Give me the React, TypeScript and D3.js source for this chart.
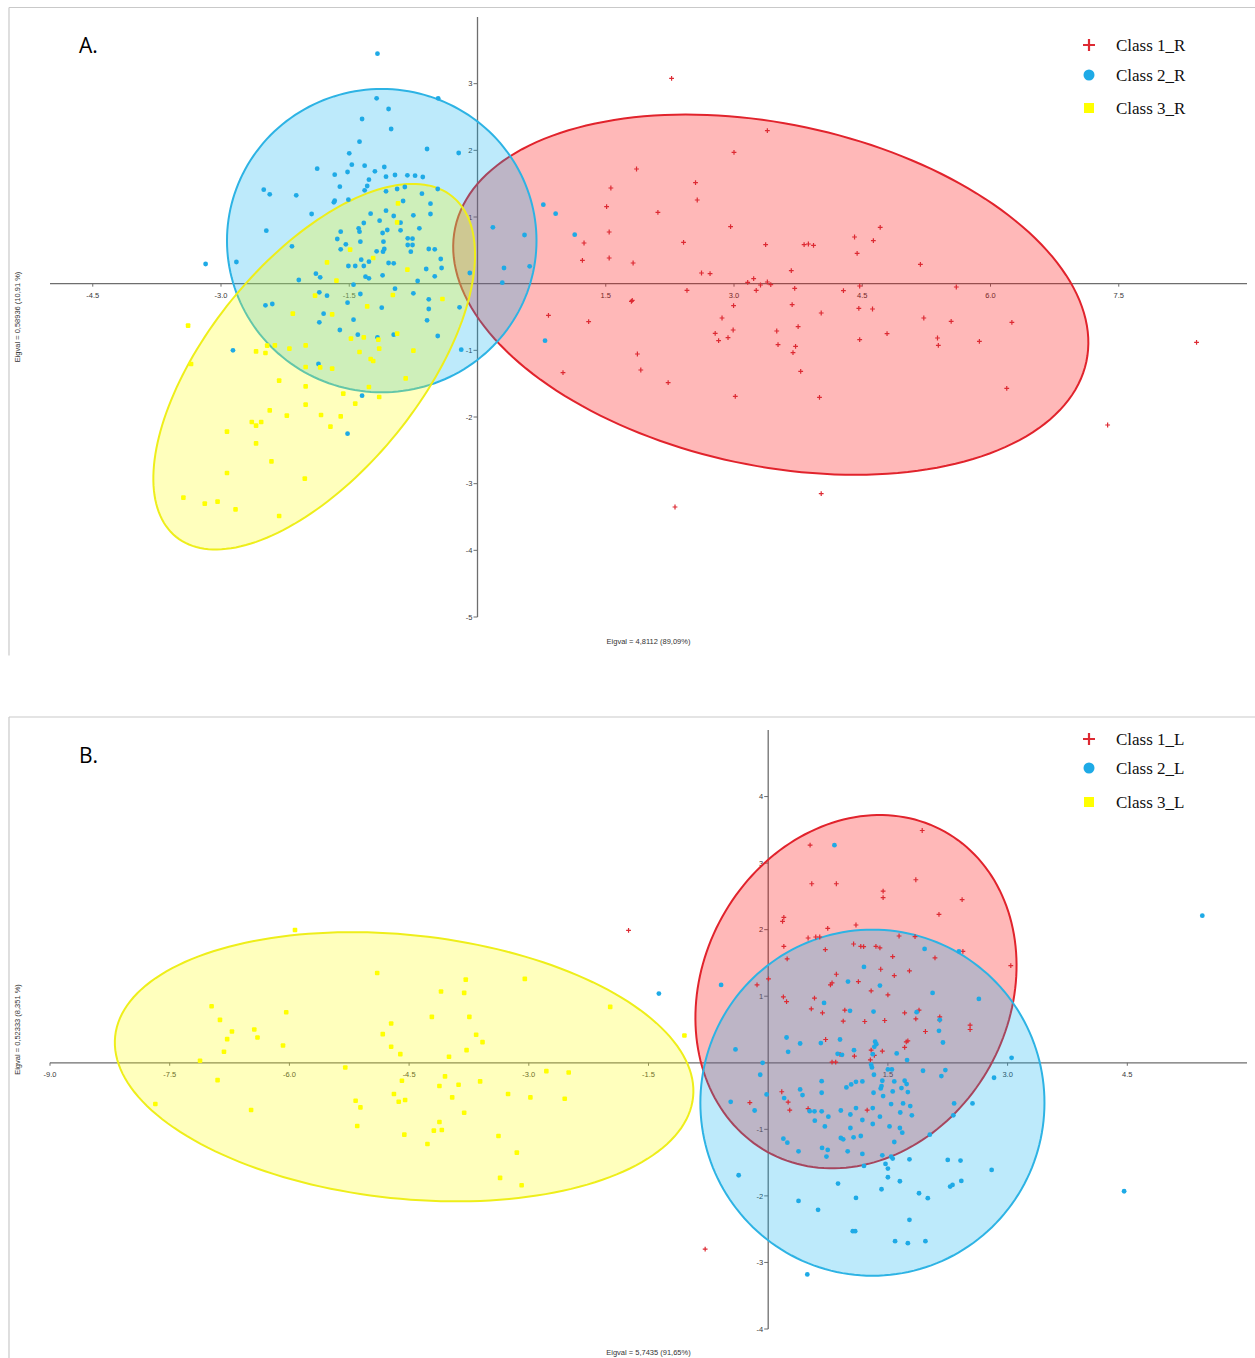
import React from "react";
import * as d3 from "d3";

type Pt = [number, number];

// ---- panel A (right side, "_R") ----
const redA: Pt[] = [
  [2.27, 3.08], [3.39, 2.295], [3.0, 1.97], [1.86, 1.72], [1.56, 1.435], [2.55, 1.515], [1.51, 1.155],
  [2.57, 1.255], [2.11, 1.07], [2.96, 0.855], [1.54, 0.775], [1.246, 0.61], [2.41, 0.62], [3.37, 0.585],
  [3.82, 0.585], [3.87, 0.595], [3.93, 0.575], [4.41, 0.7], [4.71, 0.845], [4.63, 0.645], [4.44, 0.455],
  [1.227, 0.35], [1.54, 0.385], [1.82, 0.31], [2.62, 0.16], [2.72, 0.15], [3.67, 0.195], [5.18, 0.29],
  [3.16, 0.02], [3.23, 0.075], [3.31, -0.02], [3.39, 0.025], [3.43, -0.015], [3.26, -0.1], [2.45, -0.1],
  [3.71, -0.07], [4.28, -0.105], [4.47, -0.035], [1.8, -0.265], [1.81, -0.25], [2.995, -0.33], [3.68, -0.315],
  [4.46, -0.37], [4.62, -0.38], [0.83, -0.475], [1.3, -0.57], [2.86, -0.515], [4.02, -0.44], [5.22, -0.515],
  [2.99, -0.695], [2.78, -0.745], [2.93, -0.81], [2.82, -0.855], [3.5, -0.71], [3.75, -0.645], [4.79, -0.75],
  [4.47, -0.84], [3.515, -0.915], [3.72, -0.94], [3.69, -1.035], [1.87, -1.055], [5.38, -0.815], [5.39, -0.925],
  [1.0, -1.335], [1.91, -1.295], [2.23, -1.485], [3.78, -1.315], [3.015, -1.69], [4.0, -1.705], [5.6, -0.05],
  [5.54, -0.565], [6.25, -0.58], [5.87, -0.865], [6.19, -1.57], [8.41, -0.88], [7.37, -2.12], [4.02, -3.15],
  [2.31, -3.35],
];

const blueA: Pt[] = [
  [-1.17, 3.45], [-1.18, 2.78], [-0.46, 2.78], [-1.04, 2.62], [-1.35, 2.47], [-1.01, 2.32], [-1.38, 2.13],
  [-0.59, 2.02], [-0.22, 1.96], [-1.5, 1.955], [-1.875, 1.725], [-1.47, 1.785], [-1.32, 1.77], [-1.09, 1.75],
  [-1.2, 1.685], [-1.67, 1.635], [-1.52, 1.675], [-1.07, 1.605], [-0.965, 1.63], [-0.82, 1.625], [-0.73, 1.62],
  [-0.64, 1.6], [-1.27, 1.56], [-1.61, 1.455], [-1.29, 1.465], [-2.5, 1.41], [-2.43, 1.34], [-2.12, 1.325],
  [-1.32, 1.4], [-1.07, 1.385], [-0.94, 1.42], [-0.85, 1.45], [-0.465, 1.42], [-0.65, 1.35], [-1.67, 1.245],
  [-1.68, 1.22], [-1.51, 1.26], [-0.87, 1.24], [-0.55, 1.2], [-1.94, 1.045], [-1.25, 1.05], [-1.07, 1.095],
  [-0.98, 1.015], [-0.75, 1.025], [-0.55, 1.045], [-1.33, 0.91], [-1.145, 0.945], [-0.9, 0.915], [-2.47, 0.795],
  [-1.6, 0.78], [-1.38, 0.78], [-1.39, 0.83], [-1.055, 0.805], [-0.9, 0.8], [-0.68, 0.83], [-1.11, 0.76],
  [-1.64, 0.67], [-1.54, 0.59], [-1.37, 0.63], [-2.17, 0.56], [-1.1, 0.63], [-0.816, 0.68], [-0.76, 0.675],
  [-0.816, 0.58], [-0.76, 0.58], [-1.6, 0.515], [-1.18, 0.485], [-1.105, 0.48], [-1.09, 0.52], [-0.78, 0.48],
  [-0.57, 0.52], [-0.5, 0.515], [-2.82, 0.325], [-1.36, 0.36], [-1.27, 0.33], [-0.43, 0.37], [-1.51, 0.265],
  [-1.43, 0.265], [-1.33, 0.265], [-1.04, 0.31], [-0.98, 0.305], [-0.6, 0.22], [-0.42, 0.235], [-1.89, 0.15],
  [-1.84, 0.095], [-2.09, 0.055], [-1.31, 0.105], [-1.27, 0.08], [-1.11, 0.125], [-0.7, 0.04], [-0.5, 0.11],
  [-0.09, 0.16], [-1.45, -0.015], [-1.85, -0.13], [-1.76, -0.18], [-1.37, -0.155], [-0.965, -0.075],
  [-0.75, -0.145], [-0.57, -0.235], [-1.52, -0.285], [-2.48, -0.325], [-2.4, -0.305], [-1.12, -0.36],
  [-0.57, -0.38], [-0.21, -0.355], [-1.8, -0.45], [-1.85, -0.58], [-1.45, -0.54], [-0.59, -0.55], [-1.61, -0.695],
  [-1.4, -0.765], [-1.17, -0.805], [-0.98, -0.765], [-0.465, -0.785], [-2.86, -1.0], [-0.19, -0.99],
  [-1.86, -1.205], [-1.35, -1.68], [-1.52, -2.25], [-3.18, 0.295], [0.18, 0.845], [0.55, 0.73], [0.31, 0.235],
  [0.61, 0.26], [0.29, 0.015], [0.77, 1.185], [0.914, 1.05], [1.137, 0.735], [0.79, -0.855],
];

const yellowA: Pt[] = [
  [-0.93, 1.205], [-0.94, 0.92], [-1.49, 0.51], [-1.22, 0.385], [-1.76, 0.32], [-0.82, 0.21], [-1.65, 0.045],
  [-1.9, -0.18], [-0.99, -0.17], [-0.41, -0.23], [-1.29, -0.34], [-2.16, -0.45], [-1.7, -0.46], [-1.48, -0.825],
  [-1.33, -0.805], [-1.16, -0.84], [-0.94, -0.75], [-2.46, -0.93], [-2.37, -0.925], [-2.59, -1.015],
  [-2.48, -1.04], [-2.2, -0.975], [-2.01, -0.925], [-1.38, -1.025], [-1.15, -0.975], [-0.75, -1.005],
  [-1.25, -1.13], [-1.22, -1.16], [-2.32, -1.455], [-2.01, -1.25], [-1.84, -1.255], [-1.7, -1.275],
  [-0.84, -1.42], [-2.01, -1.54], [-1.57, -1.65], [-1.27, -1.55], [-1.15, -1.7], [-1.43, -1.8], [-2.43, -1.9],
  [-2.01, -1.815], [-2.23, -1.98], [-1.6, -1.99], [-1.83, -1.97], [-3.385, -0.63], [-3.35, -1.205],
  [-1.72, -2.145], [-2.64, -2.075], [-2.59, -2.13], [-2.53, -2.075], [-2.93, -2.22], [-2.59, -2.395],
  [-2.41, -2.665], [-2.93, -2.84], [-2.02, -2.925], [-3.44, -3.21], [-3.19, -3.3], [-3.04, -3.27],
  [-2.83, -3.385], [-2.32, -3.485],
];

// ---- panel B (left side, "_L") ----
const redB: Pt[] = [
  [1.93, 3.49], [0.525, 3.27], [0.546, 2.69], [0.854, 2.69], [1.85, 2.75], [1.44, 2.58], [1.44, 2.48],
  [2.43, 2.45], [2.14, 2.23], [0.18, 2.125], [0.196, 2.185], [0.746, 2.02], [1.1, 2.07], [0.5, 1.875],
  [0.596, 1.89], [0.646, 1.89], [1.64, 1.905], [1.84, 1.895], [1.07, 1.785], [1.16, 1.75], [1.196, 1.745],
  [1.35, 1.75], [1.4, 1.725], [0.196, 1.75], [0.716, 1.7], [2.44, 1.675], [1.56, 1.595], [2.09, 1.575],
  [0.2375, 1.56], [3.04, 1.46], [1.41, 1.405], [1.77, 1.38], [0.854, 1.33], [1.58, 1.31], [0.004, 1.26],
  [-0.14, 1.17], [0.78, 1.17], [0.8, 1.2], [1.13, 1.22], [1.29, 1.08], [1.5, 1.02], [0.19, 0.99], [0.23, 0.92],
  [0.58, 0.97], [0.54, 0.81], [0.68, 0.75], [0.96, 0.79], [1.71, 0.75], [1.89, 0.79], [0.94, 0.625],
  [1.21, 0.62], [1.46, 0.635], [1.85, 0.66], [2.15, 0.69], [2.15, 0.64], [1.97, 0.47], [2.53, 0.565],
  [2.53, 0.5], [0.72, 0.35], [1.73, 0.315], [1.75, 0.33], [1.71, 0.23], [1.29, 0.19], [1.43, 0.175],
  [0.9, 0.125], [1.08, 0.1], [1.28, 0.045], [0.8, 0.01], [0.846, 0.01], [1.33, 0.11], [0.17, -0.435],
  [0.25, -0.59], [0.27, -0.71], [-0.23, -0.6], [0.5, -0.69], [1.24, -0.71], [-0.79, -2.8], [-1.75, 1.99],
];

const blueB: Pt[] = [
  [0.83, 3.27], [-0.59, 1.17], [1.96, 1.71], [2.39, 1.675], [1.2, 1.44], [1.0, 1.22], [1.4, 1.16], [2.06, 1.05],
  [2.64, 0.96], [0.7, 0.9], [1.025, 0.78], [1.32, 0.77], [1.86, 0.76], [2.15, 0.645], [2.14, 0.48], [2.19, 0.305],
  [-0.41, 0.2], [0.23, 0.38], [0.25, 0.165], [0.4, 0.29], [0.66, 0.296], [0.9, 0.35], [0.87, 0.135],
  [0.925, 0.12], [1.075, 0.19], [1.34, 0.316], [1.355, 0.28], [1.33, 0.24], [1.31, 0.13], [1.61, 0.14],
  [1.74, 0.04], [1.29, -0.03], [1.3, -0.07], [-0.07, 0.0], [-0.1, -0.18], [-0.02, -0.476], [-0.47, -0.586],
  [-0.17, -0.717], [1.325, -0.18], [1.5, -0.1], [1.55, -0.1], [1.94, -0.12], [2.22, -0.11], [2.17, -0.2],
  [3.05, 0.075], [2.83, -0.225], [0.67, -0.276], [0.98, -0.37], [1.04, -0.326], [1.1, -0.286], [1.18, -0.28],
  [1.43, -0.27], [1.42, -0.35], [1.41, -0.386], [1.58, -0.28], [1.71, -0.27], [1.735, -0.32], [1.67, -0.38],
  [1.56, -0.43], [1.44, -0.5], [1.75, -0.44], [1.32, -0.45], [0.4, -0.4], [0.43, -0.486], [0.67, -0.45],
  [0.2, -0.53], [0.52, -0.727], [0.58, -0.73], [0.67, -0.73], [0.754, -0.81], [0.584, -0.87], [0.71, -0.957],
  [0.91, -0.717], [1.03, -0.777], [1.1, -0.68], [1.18, -0.86], [1.31, -0.68], [1.31, -0.92], [1.4, -0.81],
  [1.54, -0.62], [1.655, -0.747], [1.69, -0.61], [1.78, -0.65], [1.8, -0.79], [1.52, -0.957], [1.65, -0.98],
  [1.68, -1.05], [1.03, -0.98], [0.91, -1.13], [0.94, -1.15], [1.07, -1.12], [1.16, -1.1], [0.996, -1.33],
  [1.18, -1.37], [0.675, -1.28], [0.746, -1.31], [0.73, -1.41], [0.38, -1.33], [0.19, -1.14], [0.24, -1.2],
  [1.58, -1.19], [2.025, -1.08], [1.43, -1.39], [1.54, -1.41], [1.56, -1.44], [1.2, -1.55], [1.47, -1.52],
  [1.5, -1.59], [1.77, -1.45], [1.5, -1.72], [1.65, -1.78], [1.42, -1.9], [0.875, -1.815], [1.1, -2.03],
  [0.38, -2.075], [0.625, -2.21], [-0.37, -1.69], [1.89, -1.96], [2.0, -2.035], [1.77, -2.36], [1.06, -2.53],
  [1.09, -2.53], [1.59, -2.68], [1.75, -2.71], [1.97, -2.68], [0.49, -3.18], [2.25, -1.46], [2.41, -1.47],
  [2.8, -1.61], [2.28, -1.86], [2.31, -1.835], [2.42, -1.775], [2.33, -0.61], [2.56, -0.61], [2.32, -0.79],
  [5.44, 2.21], [4.46, -1.93], [-1.37, 1.04],
];

const yellowB: Pt[] = [
  [-5.93, 1.995], [-4.9, 1.35], [-3.79, 1.25], [-3.05, 1.26], [-1.98, 0.84], [-4.1, 1.07], [-3.81, 1.05],
  [-6.975, 0.85], [-6.04, 0.76], [-6.87, 0.645], [-4.215, 0.69], [-3.745, 0.69], [-4.725, 0.59], [-6.72, 0.47],
  [-6.44, 0.5], [-4.83, 0.43], [-3.66, 0.42], [-6.78, 0.355], [-6.4, 0.38], [-6.82, 0.165], [-7.12, 0.03],
  [-6.9, -0.26], [-6.08, 0.26], [-4.725, 0.24], [-4.61, 0.13], [-5.3, -0.07], [-3.58, 0.31], [-3.78, 0.19],
  [-4.0, 0.09], [-4.59, -0.27], [-4.05, -0.205], [-4.12, -0.35], [-3.88, -0.33], [-3.61, -0.28], [-3.96, -0.52],
  [-4.69, -0.47], [-4.63, -0.586], [-4.55, -0.56], [-3.81, -0.75], [-5.17, -0.57], [-5.11, -0.67],
  [-5.15, -0.95], [-4.56, -1.08], [-4.12, -0.89], [-4.19, -1.02], [-4.09, -1.01], [-4.27, -1.22], [-3.38, -1.1],
  [-3.15, -1.35], [-3.36, -1.73], [-3.09, -1.84], [-3.26, -0.47], [-2.98, -0.52], [-2.78, -0.125],
  [-2.5, -0.145], [-2.55, -0.54], [-6.48, -0.71], [-7.68, -0.62], [-1.05, 0.41],
];

// confidence ellipses: centre + two semi-axis vectors, in data units
const ellipsesA = [
  { cls: "red", c: [3.43, -0.165], u: [3.691, -1.005], v: [-0.417, -2.508] },
  { cls: "blue", c: [-1.12, 0.645], u: [1.81, 0], v: [0, 2.275] },
  { cls: "yellow", c: [-1.91, -1.245], u: [1.615, 2.553], v: [0.965, -1.0] },
];
const ellipsesB = [
  { cls: "red", c: [1.1, 1.068], u: [1.112, 2.405], v: [1.677, -1.123] },
  { cls: "blue", c: [1.306, -0.6], u: [2.156, 0], v: [0, 2.6] },
  { cls: "yellow", c: [-4.5625, -0.06], u: [3.621, -0.458], v: [-0.172, -1.97] },
];

const xTicksA = [-4.5, -3, -1.5, 1.5, 3, 4.5, 6, 7.5];
const yTicksA = [3, 2, 1, -1, -2, -3, -4, -5];
const xTicksB = [-9, -7.5, -6, -4.5, -3, -1.5, 1.5, 3, 4.5];
const yTicksB = [4, 3, 2, 1, -1, -2, -3, -4];

const legendA = ["Class 1_R", "Class 2_R", "Class 3_R"];
const legendB = ["Class 1_L", "Class 2_L", "Class 3_L"];

const FILL: Record<string, string> = { red: "#ff0000", blue: "#00aeef", yellow: "#ffff00" };
const FILL_OP: Record<string, number> = { red: 0.28, blue: 0.26, yellow: 0.26 };
const STROKE: Record<string, string> = { red: "#e1232c", blue: "#2db3e4", yellow: "#eeee1a" };
const PT: Record<string, string> = { red: "#dd2a33", blue: "#1eaae6", yellow: "#ffff00" };

const sans = "'Liberation Sans', Arial, sans-serif";

function ellipsePath(e: any, x: any, y: any) {
  const pts = d3.range(0, 181).map((i) => {
    const t = (i / 180) * 2 * Math.PI;
    return [
      x(e.c[0] + e.u[0] * Math.cos(t) + e.v[0] * Math.sin(t)),
      y(e.c[1] + e.u[1] * Math.cos(t) + e.v[1] * Math.sin(t)),
    ] as [number, number];
  });
  return d3.line().curve(d3.curveLinearClosed)(pts) || "";
}

function Marker({ cls, x, y, big }: { cls: string; x: number; y: number; big?: boolean }) {
  if (cls === "red") {
    const a = big ? 6 : 2.4;
    return (
      <path
        d={`M${x - a},${y}H${x + a}M${x},${y - a}V${y + a}`}
        stroke={PT.red}
        strokeWidth={big ? 2.2 : 1.2}
        fill="none"
      />
    );
  }
  if (cls === "blue") return <circle cx={x} cy={y} r={big ? 5.5 : 2.4} fill={PT.blue} />;
  const s = big ? 10 : 4.6;
  return <rect x={x - s / 2} y={y - s / 2} width={s} height={s} rx={big ? 0 : 1} fill={PT.yellow} />;
}

function Panel(props: any) {
  const { xDomain, yDomain, yRange, series, ellipses, xTicks, yTicks, legend, legendRows, label, labelY,
    frameTop, xTitle, yTitle, xTitleY } = props;
  const x = d3.scaleLinear().domain(xDomain).range([50, 1247]);
  const y = d3.scaleLinear().domain(yDomain).range(yRange);
  const x0 = x(0);
  const y0 = y(0);
  const axisColor = "#6e6e6e";
  const yMid = (yRange[0] + yRange[1]) / 2;
  return (
    <g>
      {/* frame */}
      <line x1={9} x2={1255} y1={frameTop} y2={frameTop} stroke="#c9c9c9" strokeWidth={1.2} />
      <line x1={9} x2={9} y1={frameTop} y2={frameTop + 648} stroke="#c9c9c9" strokeWidth={1.2} />

      {/* axes */}
      <line x1={x.range()[0]} x2={x.range()[1]} y1={y0} y2={y0} stroke={axisColor} strokeWidth={1.3} />
      <line x1={x0} x2={x0} y1={yRange[1]} y2={yRange[0]} stroke={axisColor} strokeWidth={1.3} />
      {xTicks.map((t: number) => (
        <g key={"xt" + t}>
          <line x1={x(t)} x2={x(t)} y1={y0} y2={y0 + 3} stroke={axisColor} strokeWidth={1} />
          <text x={x(t)} y={y0 + 14} textAnchor="middle" fontFamily={sans} fontSize={7.5} fill="#3a3a3a">
            {t.toFixed(1)}
          </text>
        </g>
      ))}
      {yTicks.map((t: number) => (
        <g key={"yt" + t}>
          <line x1={x0 - 4} x2={x0} y1={y(t)} y2={y(t)} stroke={axisColor} strokeWidth={1} />
          <text x={x0 - 5} y={y(t) + 2.7} textAnchor="end" fontFamily={sans} fontSize={7.5} fill="#3a3a3a">
            {String(t)}
          </text>
        </g>
      ))}

      {/* ellipses */}
      {ellipses.map((e: any) => (
        <path key={e.cls} d={ellipsePath(e, x, y)} fill={FILL[e.cls]} fillOpacity={FILL_OP[e.cls]}
          stroke={STROKE[e.cls]} strokeWidth={2} />
      ))}

      {/* points */}
      {series.map((s: any) => (
        <g key={s.cls}>
          {s.data.map((d: Pt, i: number) => (
            <Marker key={i} cls={s.cls} x={x(d[0])} y={y(d[1])} />
          ))}
        </g>
      ))}

      {/* titles */}
      <text x={648.5} y={xTitleY} textAnchor="middle" fontFamily={sans} fontSize={7.5} fill="#333">
        {xTitle}
      </text>
      <text transform={`translate(20,${yMid}) rotate(-90)`} textAnchor="middle" fontFamily={sans}
        fontSize={7.5} fill="#333">
        {yTitle}
      </text>
      <text x={79} y={labelY} fontFamily="'Open Sans', sans-serif" fontSize={21} fill="#000">
        {label}
      </text>

      {/* legend */}
      {legend.map((l: string, i: number) => (
        <g key={l}>
          <Marker cls={["red", "blue", "yellow"][i]} x={1089} y={legendRows[i]} big />
          <text x={1116} y={legendRows[i] + 6} fontFamily="'Liberation Serif', 'Times New Roman', serif"
            fontSize={17} fill="#111">
            {l}
          </text>
        </g>
      ))}
    </g>
  );
}

export default function App() {
  return (
    <svg width={1255} height={1358} style={{ position: "absolute", left: 0, top: 0, background: "#fff" }}>
      <rect width={1255} height={1358} fill="#fff" />
      <Panel
        xDomain={[-5, 9]}
        yDomain={[-5, 4]}
        yRange={[617, 17]}
        series={[
          { cls: "red", data: redA },
          { cls: "blue", data: blueA },
          { cls: "yellow", data: yellowA },
        ]}
        ellipses={ellipsesA}
        xTicks={xTicksA}
        yTicks={yTicksA}
        legend={legendA}
        legendRows={[45, 75, 108]}
        label="A."
        labelY={53}
        frameTop={7.5}
        xTitle="Eigval = 4,8112 (89,09%)"
        yTitle="Eigval = 0,58936 (10,91 %)"
        xTitleY={644}
      />
      <Panel
        xDomain={[-9, 6]}
        yDomain={[-4, 5]}
        yRange={[1329, 730]}
        series={[
          { cls: "red", data: redB },
          { cls: "blue", data: blueB },
          { cls: "yellow", data: yellowB },
        ]}
        ellipses={ellipsesB}
        xTicks={xTicksB}
        yTicks={yTicksB}
        legend={legendB}
        legendRows={[739, 768, 802]}
        label="B."
        labelY={763}
        frameTop={717}
        xTitle="Eigval = 5,7435 (91,65%)"
        yTitle="Eigval = 0,52333 (8,351 %)"
        xTitleY={1355}
      />
    </svg>
  );
}
